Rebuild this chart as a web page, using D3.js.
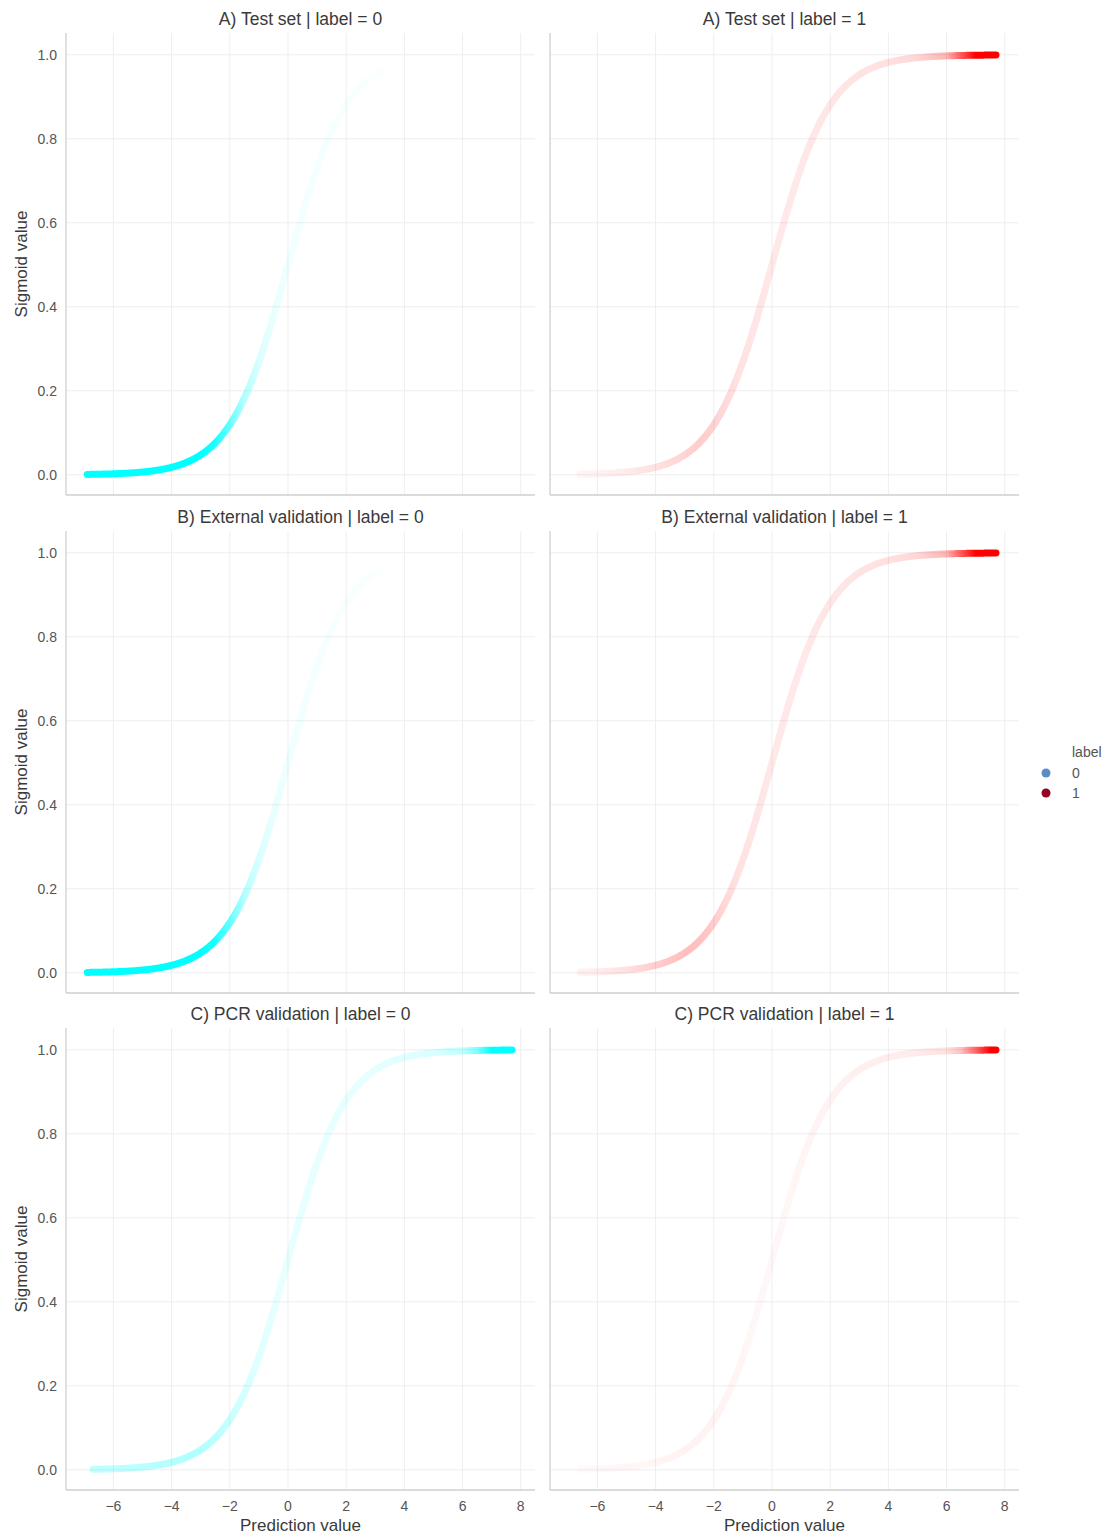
<html>
<head>
  <meta charset="UTF-8">
  <title>Sigmoid facets</title>
  <script src="https://d3js.org/d3.v7.min.js"></script>
</head>
<style>
body { margin: 0; background: #fff; font-family: "Liberation Sans", Arial, sans-serif; }
.grid line { stroke: #eeeeee; stroke-width: 1; }
.spine { stroke: #cfcfcf; stroke-width: 1.3; }
.tick-label { fill: #555; font-size: 14px; }
.title { fill: #3a3a3a; font-size: 17.5px; }
.axis-label { fill: #3a3a3a; font-size: 17px; }
</style>
<body>
<script>

// panel titles, row by row
var rowNames = ['A) Test set', 'B) External validation', 'C) PCR validation'];
var labels = [0, 1];
var pointColors = ['#00ffff', '#ff0000'];
var legendColors = ['#5b8cc6', '#99001f'];

var xTicks = [-6, -4, -2, 0, 2, 4, 6, 8];
var yTicks = [0, 0.2, 0.4, 0.6, 0.8, 1.0];

// prediction value range covered by each panel's points [start, end]
var rangeA0 = [-6.9, 3.3],  rangeA1 = [-6.6, 7.7];
var rangeB0 = [-6.9, 3.3],  rangeB1 = [-6.6, 7.7];
var rangeC0 = [-6.7, 7.7],  rangeC1 = [-6.6, 7.7];

// point density (as visible opacity) at these prediction values
var knots = [-7, -6, -5, -4, -3, -2.5, -2, -1.5, -1, -0.5, 0, 1, 2, 3, 4, 5, 6, 6.5, 7, 7.5, 8];
var densA0 = [1, 1, 1, 1, 1, 0.9, 0.6, 0.3, 0.15, 0.09, 0.06, 0.04, 0.03, 0.02, 0.01, 0, 0, 0, 0, 0, 0];
var densA1 = [0.04, 0.05, 0.08, 0.12, 0.17, 0.2, 0.18, 0.14, 0.11, 0.1, 0.09, 0.09, 0.1, 0.11, 0.12, 0.16, 0.3, 0.65, 1, 1, 1];
var densB0 = [1, 1, 1, 1, 1, 0.9, 0.6, 0.3, 0.15, 0.09, 0.06, 0.04, 0.03, 0.02, 0.01, 0, 0, 0, 0, 0, 0];
var densB1 = [0.05, 0.07, 0.12, 0.2, 0.25, 0.25, 0.2, 0.14, 0.11, 0.1, 0.09, 0.09, 0.1, 0.11, 0.12, 0.16, 0.3, 0.65, 1, 1, 1];
var densC0 = [0.25, 0.25, 0.27, 0.3, 0.3, 0.27, 0.22, 0.16, 0.12, 0.1, 0.09, 0.09, 0.09, 0.1, 0.12, 0.15, 0.25, 0.5, 1, 1, 1];
var densC1 = [0.02, 0.03, 0.03, 0.04, 0.05, 0.05, 0.05, 0.04, 0.04, 0.03, 0.03, 0.04, 0.05, 0.06, 0.07, 0.08, 0.12, 0.25, 0.6, 1, 1];

var panels = [
  {row: 0, col: 0, range: rangeA0, dens: densA0},
  {row: 0, col: 1, range: rangeA1, dens: densA1},
  {row: 1, col: 0, range: rangeB0, dens: densB0},
  {row: 1, col: 1, range: rangeB1, dens: densB1},
  {row: 2, col: 0, range: rangeC0, dens: densC0},
  {row: 2, col: 1, range: rangeC1, dens: densC1}
];

var width = 1106,
    height = 1537;

var panelW = 469, panelH = 462;
var colX = [66, 550];
var rowY = [33, 531, 1028];

var svg = d3.select('body')
  .append('svg')
  .attr('width', width)
  .attr('height', height);

var defs = svg.append('defs');

var x = d3.scaleLinear().domain([-7.63, 8.49]).range([0, panelW]);
var y = d3.scaleLinear().domain([-0.048, 1.052]).range([panelH, 0]);

var sigmoid = function(v) { return 1 / (1 + Math.exp(-v)); };

var line = d3.line()
  .x(function(d) { return x(d); })
  .y(function(d) { return y(sigmoid(d)); });

panels.forEach(function(p, i) {
  var g = svg.append('g')
    .attr('transform', 'translate(' + colX[p.col] + ',' + rowY[p.row] + ')');

  // grid
  var grid = g.append('g').attr('class', 'grid');
  grid.selectAll('.vx')
    .data(xTicks)
    .enter()
    .append('line')
    .attr('x1', function(d) { return x(d); })
    .attr('x2', function(d) { return x(d); })
    .attr('y1', 0)
    .attr('y2', panelH);
  grid.selectAll('.hy')
    .data(yTicks)
    .enter()
    .append('line')
    .attr('x1', 0)
    .attr('x2', panelW)
    .attr('y1', function(d) { return y(d); })
    .attr('y2', function(d) { return y(d); });

  // spines
  g.append('line').attr('class', 'spine')
    .attr('x1', 0).attr('x2', 0).attr('y1', 0).attr('y2', panelH);
  g.append('line').attr('class', 'spine')
    .attr('x1', 0).attr('x2', panelW).attr('y1', panelH).attr('y2', panelH);

  // density gradient along x
  var grad = defs.append('linearGradient')
    .attr('id', 'grad' + i)
    .attr('gradientUnits', 'userSpaceOnUse')
    .attr('x1', 0).attr('x2', panelW)
    .attr('y1', 0).attr('y2', 0);
  grad.selectAll('stop')
    .data(knots)
    .enter()
    .append('stop')
    .attr('offset', function(d) { return Math.max(0, Math.min(1, x(d) / panelW)); })
    .attr('stop-color', pointColors[p.col])
    .attr('stop-opacity', function(d, j) { return p.dens[j]; });

  var xs = d3.range(p.range[0], p.range[1], 0.02).concat([p.range[1]]);
  g.append('path')
    .datum(xs)
    .attr('d', line)
    .attr('fill', 'none')
    .attr('stroke', 'url(#grad' + i + ')')
    .attr('stroke-width', 7)
    .attr('stroke-linecap', 'round')
    .attr('stroke-linejoin', 'round');

  // title
  g.append('text')
    .attr('class', 'title')
    .attr('x', panelW / 2)
    .attr('y', -8)
    .attr('text-anchor', 'middle')
    .text(rowNames[p.row] + ' | label = ' + labels[p.col]);

  // y tick labels on left column
  if (p.col === 0) {
    g.selectAll('.yl')
      .data(yTicks)
      .enter()
      .append('text')
      .attr('class', 'tick-label')
      .attr('x', -9)
      .attr('y', function(d) { return y(d); })
      .attr('dy', '0.35em')
      .attr('text-anchor', 'end')
      .text(d3.format('.1f'));
    g.append('text')
      .attr('class', 'axis-label')
      .attr('transform', 'translate(-39,' + (panelH / 2) + ') rotate(-90)')
      .attr('text-anchor', 'middle')
      .text('Sigmoid value');
  }

  // x tick labels on bottom row
  if (p.row === 2) {
    g.selectAll('.xl')
      .data(xTicks)
      .enter()
      .append('text')
      .attr('class', 'tick-label')
      .attr('x', function(d) { return x(d); })
      .attr('y', panelH + 21)
      .attr('text-anchor', 'middle')
      .text(function(d) { return d < 0 ? '\u2212' + Math.abs(d) : d; });
    g.append('text')
      .attr('class', 'axis-label')
      .attr('x', panelW / 2)
      .attr('y', panelH + 41)
      .attr('text-anchor', 'middle')
      .text('Prediction value');
  }
});

// legend
var legend = svg.append('g').attr('transform', 'translate(1046,752)');
legend.append('text')
  .attr('class', 'tick-label')
  .attr('x', 26)
  .attr('y', 0)
  .attr('dy', '0.35em')
  .text('label');
legend.selectAll('circle')
  .data(labels)
  .enter()
  .append('circle')
  .attr('cx', 0)
  .attr('cy', function(d, i) { return 21 + i * 20; })
  .attr('r', 4.5)
  .attr('fill', function(d, i) { return legendColors[i]; });
legend.selectAll('.ll')
  .data(labels)
  .enter()
  .append('text')
  .attr('class', 'tick-label')
  .attr('x', 26)
  .attr('y', function(d, i) { return 21 + i * 20; })
  .attr('dy', '0.35em')
  .text(function(d) { return d; });

</script>
</body>
</html>
